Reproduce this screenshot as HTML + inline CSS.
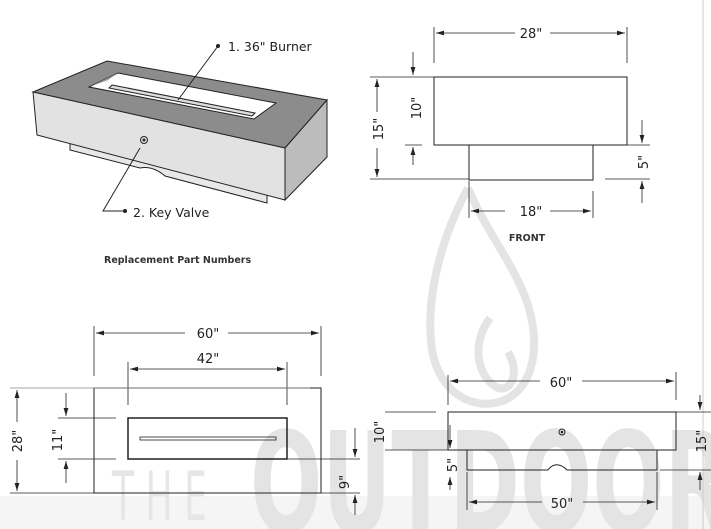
<!DOCTYPE html>
<html><head><style>html,body{margin:0;background:#fff;width:711px;height:529px;overflow:hidden}svg{display:block}text{font-family:"DejaVu Sans","Liberation Sans",sans-serif;fill:#222}</style></head><body>
<svg width="711" height="529" viewBox="0 0 711 529" xmlns="http://www.w3.org/2000/svg">
<defs><marker id="a" viewBox="0 0 10 6" refX="10" refY="3" markerWidth="10" markerHeight="6" orient="auto-start-reverse"><path d="M0,0L10,3L0,6z" fill="#222"/></marker></defs>
<rect x="0" y="496" width="711" height="33" fill="#f5f5f5"/>
<!-- watermark -->
<g fill="none" stroke="#e4e4e4" stroke-width="8">
<path d="M468,188 C440,240 425,300 432,350 C440,395 475,412 505,400 C535,385 540,345 528,305 C515,265 485,230 468,188"/>
<path d="M490,318 C470,345 478,378 498,388 C512,392 520,372 508,352"/>
</g>
<g font-family="Liberation Sans,sans-serif">
<text x="112" y="520" font-size="68" style="fill:#e6e6e6" textLength="95" lengthAdjust="spacingAndGlyphs">T H E</text>
<text x="250" y="532" font-size="140" font-weight="bold" style="fill:#e4e4e4" textLength="480" lengthAdjust="spacingAndGlyphs">OUTDOOR</text>
</g>
<line x1="703" y1="0" x2="703" y2="529" stroke="#ccc"/>
<g stroke="#222" stroke-width="1" fill="none">
<!-- iso -->
<path d="M70,140 L70,150 L140,168 C150,166 158,170 165,176 L267,203 L267,190" fill="#e8e8e8"/>
<polygon points="33,92 107,61 327,100 285,148" fill="#8c8c8c"/>
<polygon points="33,92 285,148 285,200 37,135" fill="#e2e2e2"/>
<polygon points="285,148 327,100 327,157 285,200" fill="#bcbcbc"/>
<polygon points="89,87 118,73 276,103 254,119" fill="#fff"/>
<polygon points="89,87 118,73 108,80" fill="#999" stroke="none"/>
<polygon points="112,85 255,113 252,116 109,88" fill="#ddd"/>
<line x1="218" y1="46" x2="178" y2="100"/>
<circle cx="144" cy="140" r="3.5"/><circle cx="144" cy="140" r="1" fill="#222"/>
<path d="M140,148 L103,211 L125,211" />
<!-- front -->
<rect x="434" y="77" width="193" height="68"/>
<rect x="469" y="145" width="124" height="35"/>
<g stroke-width="0.8">
<line x1="434" y1="27" x2="434" y2="63"/><line x1="627" y1="27" x2="627" y2="63"/>
<line x1="436" y1="33" x2="515" y2="33" marker-start="url(#a)"/><line x1="550" y1="33" x2="625" y2="33" marker-end="url(#a)"/>
<line x1="370" y1="77" x2="434" y2="77"/><line x1="370" y1="179" x2="469" y2="179"/>
<line x1="377" y1="79" x2="377" y2="112" marker-start="url(#a)"/><line x1="377" y1="148" x2="377" y2="177" marker-end="url(#a)"/>
<line x1="413" y1="52" x2="413" y2="75" marker-end="url(#a)"/><line x1="413" y1="165" x2="413" y2="147" marker-end="url(#a)"/>
<line x1="405" y1="145" x2="422" y2="145"/>
<line x1="627" y1="145" x2="650" y2="145"/><line x1="605" y1="179" x2="650" y2="179"/>
<line x1="642" y1="120" x2="642" y2="143" marker-end="url(#a)"/><line x1="642" y1="203" x2="642" y2="181" marker-end="url(#a)"/>
<line x1="469" y1="181" x2="469" y2="218"/><line x1="593" y1="191" x2="593" y2="218"/>
<line x1="471" y1="211" x2="505" y2="211" marker-start="url(#a)"/><line x1="550" y1="211" x2="591" y2="211" marker-end="url(#a)"/>
</g>
<!-- top view -->
<rect x="94" y="388" width="227" height="105"/>
<rect x="128" y="418" width="159" height="41" stroke-width="1.5"/>
<rect x="140" y="437" width="136" height="3" stroke-width="0.8"/>
<g stroke-width="0.8">
<line x1="94" y1="326" x2="94" y2="376"/><line x1="321" y1="326" x2="321" y2="376"/>
<line x1="96" y1="333" x2="185" y2="333" marker-start="url(#a)"/><line x1="228" y1="333" x2="319" y2="333" marker-end="url(#a)"/>
<line x1="128" y1="362" x2="128" y2="405"/><line x1="287" y1="362" x2="287" y2="405"/>
<line x1="130" y1="369" x2="285" y2="369" marker-start="url(#a)" marker-end="url(#a)"/>
<line x1="10" y1="388" x2="310" y2="388" stroke="#888"/><line x1="10" y1="493" x2="94" y2="493"/>
<line x1="17" y1="390" x2="17" y2="422" marker-start="url(#a)"/><line x1="17" y1="460" x2="17" y2="491" marker-end="url(#a)"/>
<line x1="58" y1="418" x2="116" y2="418"/><line x1="58" y1="459" x2="116" y2="459"/><line x1="287" y1="459" x2="360" y2="459"/>
<line x1="321" y1="493" x2="360" y2="493"/>
<line x1="66" y1="393" x2="66" y2="416" marker-end="url(#a)"/><line x1="66" y1="483" x2="66" y2="461" marker-end="url(#a)"/>
<line x1="355" y1="428" x2="355" y2="457" marker-end="url(#a)"/><line x1="355" y1="515" x2="355" y2="495" marker-end="url(#a)"/>
</g>
<!-- side view -->
<rect x="448" y="412" width="228" height="38"/>
<path d="M467,450 L467,470 L548,470 C553,463 560,463 567,470 L657,470 L657,450"/>
<circle cx="562" cy="432" r="3"/><circle cx="562" cy="432" r="0.8" fill="#222"/>
<g stroke-width="0.8">
<line x1="448" y1="375" x2="448" y2="405"/><line x1="676" y1="372" x2="676" y2="400"/>
<line x1="450" y1="381" x2="540" y2="381" marker-start="url(#a)"/><line x1="582" y1="381" x2="674" y2="381" marker-end="url(#a)"/>
<line x1="385" y1="412" x2="436" y2="412"/><line x1="385" y1="450" x2="448" y2="450"/>
<line x1="676" y1="412" x2="711" y2="412"/><line x1="660" y1="470" x2="711" y2="470"/>
<line x1="467" y1="472" x2="467" y2="510"/><line x1="657" y1="472" x2="657" y2="510"/>
<line x1="469" y1="502" x2="542" y2="502" marker-start="url(#a)"/><line x1="583" y1="502" x2="655" y2="502" marker-end="url(#a)"/>
<line x1="450" y1="425" x2="450" y2="448" marker-end="url(#a)"/><line x1="450" y1="490" x2="450" y2="477" marker-end="url(#a)"/>
<line x1="700" y1="395" x2="700" y2="410" marker-end="url(#a)"/><line x1="700" y1="490" x2="700" y2="472" marker-end="url(#a)"/>
</g>
</g>
<circle cx="218" cy="46" r="2" fill="#222"/><circle cx="125" cy="211" r="2" fill="#222"/>
<text x="228" y="51" font-size="12.5">1. 36" Burner</text>
<text x="133" y="217" font-size="12.5">2. Key Valve</text>
<text x="104" y="263" font-size="9.5" font-weight="bold" style="fill:#333">Replacement Part Numbers</text>
<text x="531" y="38" font-size="13" text-anchor="middle">28"</text>
<text x="531" y="216" font-size="13" text-anchor="middle">18"</text>
<text x="527" y="241" font-size="9.5" font-weight="bold" text-anchor="middle" style="fill:#333">FRONT</text>
<text transform="translate(383,129) rotate(-90)" font-size="13" text-anchor="middle">15"</text>
<text transform="translate(421,108) rotate(-90)" font-size="13" text-anchor="middle">10"</text>
<text transform="translate(648,162) rotate(-90)" font-size="13" text-anchor="middle">5"</text>
<text x="208" y="338" font-size="13" text-anchor="middle">60"</text>
<text x="208" y="363" font-size="13" text-anchor="middle">42"</text>
<text transform="translate(22,441) rotate(-90)" font-size="13" text-anchor="middle">28"</text>
<text transform="translate(62,440) rotate(-90)" font-size="13" text-anchor="middle">11"</text>
<text transform="translate(349,482) rotate(-90)" font-size="13" text-anchor="middle">9"</text>
<text x="561" y="387" font-size="13" text-anchor="middle">60"</text>
<text x="562" y="508" font-size="13" text-anchor="middle">50"</text>
<text transform="translate(384,432) rotate(-90)" font-size="13" text-anchor="middle">10"</text>
<text transform="translate(457,465) rotate(-90)" font-size="13" text-anchor="middle">5"</text>
<text transform="translate(706,441) rotate(-90)" font-size="13" text-anchor="middle">15"</text>
</svg>
</body></html>
